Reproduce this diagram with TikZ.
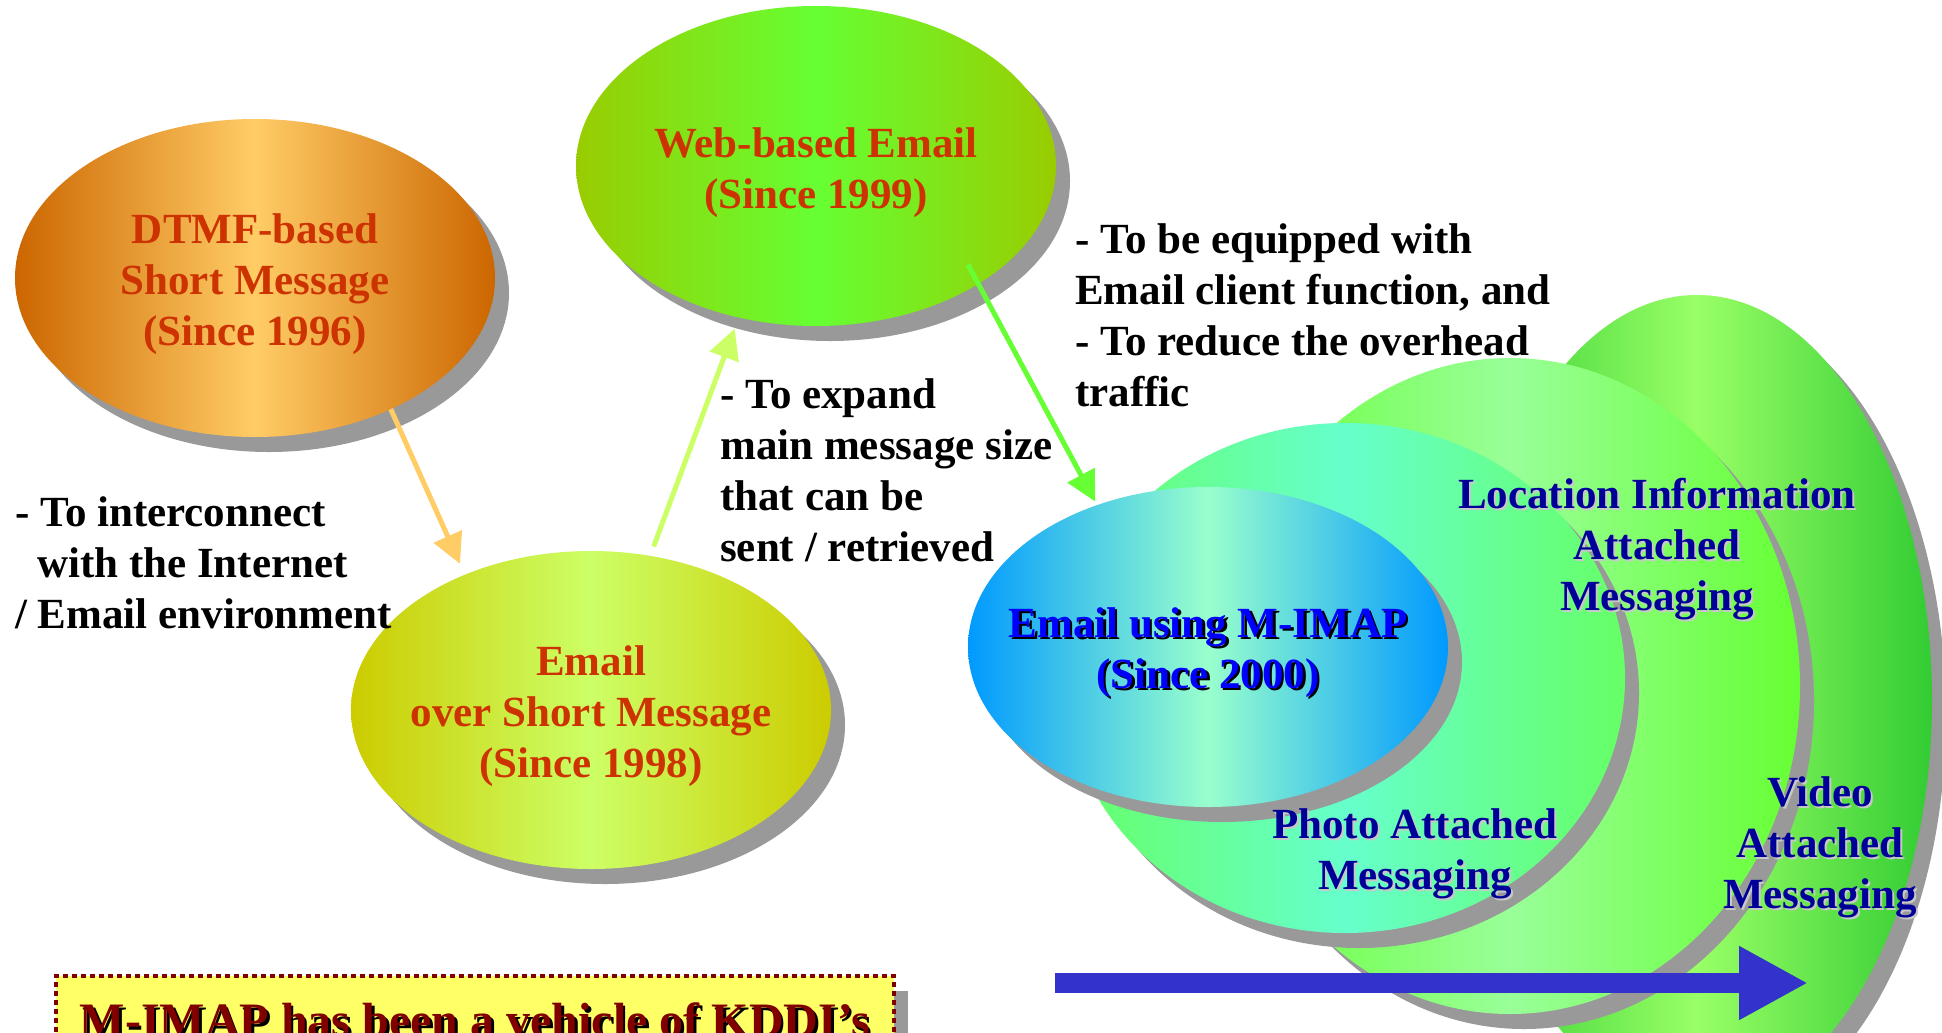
\documentclass[tikz,border=0pt]{standalone}
\usepackage{fontspec}
\setmainfont{Liberation Serif}
\usetikzlibrary{shapes.geometric,shadows,arrows.meta}
\definecolor{txtred}{RGB}{204,51,0}
\definecolor{shgray}{RGB}{153,153,153}
\definecolor{shlight}{RGB}{200,200,200}
\definecolor{orEdge}{RGB}{204,102,0}
\definecolor{orMid}{RGB}{255,204,102}
\definecolor{wbEdge}{RGB}{153,204,0}
\definecolor{wbMid}{RGB}{102,255,51}
\definecolor{ysEdge}{RGB}{204,204,0}
\definecolor{ysMid}{RGB}{204,255,102}
\definecolor{blEdge}{RGB}{0,153,255}
\definecolor{blMid}{RGB}{153,255,204}
\definecolor{cyEdge}{RGB}{102,255,102}
\definecolor{cyMid}{RGB}{102,255,204}
\definecolor{lgEdge}{RGB}{102,255,51}
\definecolor{lgMid}{RGB}{153,255,153}
\definecolor{dgEdge}{RGB}{51,204,51}
\definecolor{dgMid}{RGB}{153,255,102}
\definecolor{navy}{RGB}{0,0,153}
\definecolor{mblue}{RGB}{0,0,255}
\definecolor{arrOr}{RGB}{255,204,102}
\definecolor{arrYg}{RGB}{204,255,102}
\definecolor{arrGr}{RGB}{102,255,51}
\definecolor{arrBl}{RGB}{51,51,204}
\definecolor{boxYel}{RGB}{255,255,102}
\definecolor{boxRed}{RGB}{128,0,0}
\newcommand\tsh[3][2bp]{\leavevmode\rlap{\kern#1\raisebox{-#1}{\textcolor{#2}{#3}}}#3}
\newcommand\lowr{\rule{0pt}{43bp}}
\begin{document}
\begin{tikzpicture}[x=1bp,y=-1bp,
  big/.style={font=\fontsize{43bp}{51bp}\selectfont\bfseries},
  shad/.style={drop shadow={shadow xshift=14bp, shadow yshift=-15bp, opacity=1, fill=shgray}},
  blob/.style={ellipse, inner xsep=-40bp, inner ysep=0pt, outer sep=0pt, draw=none, big, align=center, shad},
  note/.style={big, anchor=north west, align=left, inner sep=0pt, text=black},
  lab/.style={big, anchor=north, align=center, inner sep=0pt, text=navy},
  conn/.style={line width=5bp, -{Triangle[length=30bp,width=30bp]}},
]
\clip (0,0) rectangle (1942,1032);
\fill[white] (0,0) rectangle (1942,1032);

% nested ellipses (back to front)
\node[blob, minimum width=470bp, minimum height=810bp, left color=dgEdge, right color=dgEdge, middle color=dgMid] (vid) at (1697,700) {};
\node[blob, minimum width=580bp, minimum height=656bp, left color=lgEdge, right color=lgEdge, middle color=lgMid] (loc) at (1510,686) {};
\node[blob, minimum width=560bp, minimum height=510bp, left color=cyEdge, right color=cyEdge, middle color=cyMid] (pho) at (1345,678) {};
\node[blob, minimum width=480bp, minimum height=320bp, left color=blEdge, right color=blEdge, middle color=blMid, text=mblue] (mimap) at (1208,647)
  {\lowr\tsh[2.5bp]{black}{Email using M-IMAP}\\\tsh[2.5bp]{black}{(Since 2000)}};

% left ellipses
\node[blob, minimum width=480bp, minimum height=318bp, left color=orEdge, right color=orEdge, middle color=orMid, text=txtred] (dtmf) at (255,278)
  {\lowr DTMF-based\\Short Message\\(Since 1996)};
\node[blob, minimum width=480bp, minimum height=320bp, left color=wbEdge, right color=wbEdge, middle color=wbMid, text=txtred] (web) at (816,166)
  {\lowr Web-based Email\\(Since 1999)};
\node[blob, minimum width=480bp, minimum height=318bp, left color=ysEdge, right color=ysEdge, middle color=ysMid, text=txtred] (emsm) at (591,710)
  {\lowr Email\\over Short Message\\(Since 1998)};

% labels of nested ellipses
\node[lab] (loclab) at (1657,478) {\tsh{shlight}{Location Information}\\\tsh{shlight}{Attached}\\\tsh{shlight}{Messaging}};
\node[lab] (pholab) at (1415,808) {\tsh{shlight}{Photo Attached}\\\tsh{shlight}{Messaging}};
\node[lab] (vidlab) at (1820,776) {\tsh{shlight}{Video}\\\tsh{shlight}{Attached}\\\tsh{shlight}{Messaging}};

% notes
\node[note] (n1) at (15,496) {- To interconnect\\\hspace*{22bp}with the Internet\\/ Email environment};
\node[note] (n2) at (720,378) {- To expand\\main message size\\that can be\\sent / retrieved};
\node[note] (n3) at (1075,223) {- To be equipped with\\Email client function, and\\- To reduce the overhead\\traffic};

% connectors
\draw[conn, arrOr, shorten >=12bp] (dtmf.-44) -- (emsm.133);
\draw[conn, arrYg, shorten <=10bp, shorten >=12bp] (emsm.69) -- (web.243);
\draw[conn, arrGr, shorten <=-22bp, shorten >=4bp] (web.-36) -- (mimap.128);

% time arrow
\coordinate (t0) at (1055,983);
\coordinate (t1) at (1808,983);
\draw[arrBl, line width=20bp, -{Triangle[length=69bp,width=69bp]}] (t0) -- (t1);

% bottom box
\node[anchor=north west, minimum width=838bp, inner xsep=0pt, inner ysep=27bp, outer sep=0pt,
  fill=boxYel, draw=boxRed, line width=4bp, dash pattern=on 5bp off 4bp, text=boxRed,
  font=\fontsize{48bp}{58bp}\selectfont\bfseries, shad] (kddi) at (56,976)
  {\tsh[2.5bp]{black}{M-IMAP has been a vehicle of KDDI’s}};
\end{tikzpicture}
\end{document}
